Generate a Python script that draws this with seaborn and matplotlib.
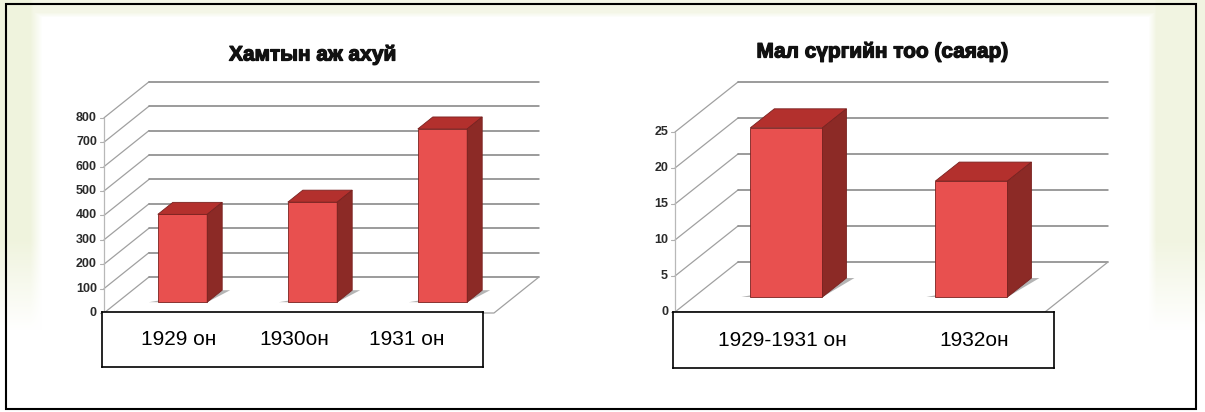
import numpy as np
import matplotlib
matplotlib.use('Agg')
import matplotlib.pyplot as plt
import matplotlib.patheffects as pe
from matplotlib.patches import Polygon
import seaborn as sns

# дата
cats_left = ['1929 он', '1930он', '1931 он']
vals_left = [360, 410, 710]
ticks_left = [0, 100, 200, 300, 400, 500, 600, 700, 800]
title_left = 'Хамтын аж ахуй'

cats_right = ['1929-1931 он', '1932он']
vals_right = [23.5, 16.1]
ticks_right = [0, 5, 10, 15, 20, 25]
title_right = 'Мал сүргийн тоо (саяар)'

W, H = 1205, 412
FRONT, TOP, SIDE, EDGE = '#e8504f', '#b3302d', '#8c2a26', '#7a2220'

sns.set_theme(style='white')
plt.rcParams['font.family'] = ['Liberation Sans', 'DejaVu Sans']

fig = plt.figure(figsize=(W / 100, H / 100), dpi=100)

# арын дэвсгэр (ногоовтор хүрээ)
bg = fig.add_axes([0, 0, 1, 1])
bg.axis('off')
yy, xx = np.mgrid[0:H, 0:W].astype(float)
fade = np.clip((330 - yy) / 90, 0, 1)
w_left = np.clip((42 - xx) / 12, 0, 1) * fade
w_right = np.clip((xx - 1148) / 8, 0, 1) * fade * 0.9
w_top = np.clip((17 - yy) / 5, 0, 1) * 0.7
w = np.maximum(np.maximum(w_left, w_right), w_top)[..., None]
tint = np.array([0.94, 0.955, 0.87])
img = (1 - w) * np.ones(3) + w * tint
bg.imshow(img, extent=[0, W, H, 0], aspect='auto')
bg.set_xlim(0, W)
bg.set_ylim(H, 0)
bg.add_patch(plt.Rectangle((6, 4), 1190, 405, fill=False, ec='black', lw=1.5))


def draw_chart(cats, vals, ticks, title, corner, depth, t_bar, cat_px, unit_px,
               bar_w, bar_depth, box, label_pos, title_xy):
    n = len(cats)
    # баганын хавтгайн эх цэг (пиксел, дээрээс)
    bx0 = corner[0] + t_bar * depth[0]
    by0 = H - (corner[1] - t_bar * depth[1])

    ax = fig.add_axes([0, 0, 1, 1])
    ax.patch.set_alpha(0)
    sns.barplot(x=cats, y=vals, ax=ax, color=FRONT, saturation=1, width=bar_w,
                edgecolor=EDGE, linewidth=0.6)
    ax.set_xlim(-bx0 / cat_px - 0.5, (W - bx0) / cat_px - 0.5)
    ax.set_ylim(-by0 / unit_px, (H - by0) / unit_px)
    ax.axis('off')

    px = lambda d: d / cat_px
    py = lambda d: d / unit_px
    fx, fy = px(-t_bar * depth[0]), py(-t_bar * depth[1])
    kx, ky = px((1 - t_bar) * depth[0]), py((1 - t_bar) * depth[1])
    left, right = -0.5, n - 0.5

    # хана, торын шугам
    for v in ticks:
        ax.plot([left + fx, left + kx], [v + fy, v + ky], color='#a0a0a0', lw=0.9, zorder=1)
        ax.plot([left + kx, right + kx], [v + ky, v + ky], color='#808080', lw=1.1, zorder=1)
        ax.plot([left + fx - px(4), left + fx], [v + fy, v + fy], color='#b0b0b0', lw=0.8, zorder=1)
        ax.text(left + fx - px(7), v + fy, str(v), ha='right', va='center',
                fontsize=9, fontweight='bold', color='#2a2a2a')
    ax.plot([left + fx, left + fx], [fy, ticks[-1] + fy], color='#b8b8b8', lw=0.9, zorder=1)
    ax.plot([right + kx, right + fx, left + fx], [ky, fy, fy], color='#a0a0a0', lw=0.9, zorder=1)

    # 3D баганууд
    dx, dy = px(bar_depth[0]), py(bar_depth[1])
    for p in ax.patches:
        x0, bw, h = p.get_x(), p.get_width(), p.get_height()
        p.set_zorder(4)
        shadow = [(x0 - px(9), 0), (x0 + bw, 0), (x0 + bw + dx + px(8), dy), (x0 + bw + dx, dy)]
        ax.add_patch(Polygon(shadow, closed=True, fc='#777777', ec='none', alpha=0.55, zorder=3))
        top = [(x0, h), (x0 + bw, h), (x0 + bw + dx, h + dy), (x0 + dx, h + dy)]
        side = [(x0 + bw, 0), (x0 + bw + dx, dy), (x0 + bw + dx, h + dy), (x0 + bw, h)]
        ax.add_patch(Polygon(top, closed=True, fc=TOP, ec=EDGE, lw=0.6, zorder=4))
        ax.add_patch(Polygon(side, closed=True, fc=SIDE, ec=EDGE, lw=0.6, zorder=4))

    fig.text(title_xy[0] / W, 1 - title_xy[1] / H, title, ha='center', va='center',
             fontsize=15, fontweight='bold', color='#111111',
             path_effects=[pe.withStroke(linewidth=0.9, foreground='#111111')])

    # нэрийн хайрцаг
    x1, y1, x2, y2 = box
    bax = fig.add_axes([x1 / W, 1 - y2 / H, (x2 - x1) / W, (y2 - y1) / H])
    bax.set_facecolor('white')
    bax.set_xticks([])
    bax.set_yticks([])
    for s in bax.spines.values():
        s.set_visible(True)
        s.set_color('black')
        s.set_linewidth(1.2)
    for lab, pos in zip(cats, label_pos):
        bax.text(pos, 0.5, lab, ha='center', va='center', fontsize=15, color='black',
                 transform=bax.transAxes)


draw_chart(cats_left, vals_left, ticks_left, title_left,
           corner=(104, 313), depth=(45, 36), t_bar=0.3, cat_px=130, unit_px=0.244,
           bar_w=0.38, bar_depth=(15, 12), box=(102, 312, 483, 367),
           label_pos=[0.2, 0.505, 0.8], title_xy=(313, 55))

draw_chart(cats_right, vals_right, ticks_right, title_right,
           corner=(675, 312), depth=(63, 50), t_bar=0.3, cat_px=185, unit_px=7.2,
           bar_w=0.39, bar_depth=(24, 19), box=(673, 312, 1054, 368),
           label_pos=[0.287, 0.79], title_xy=(883, 52))

fig.savefig('out.png', dpi=100)
